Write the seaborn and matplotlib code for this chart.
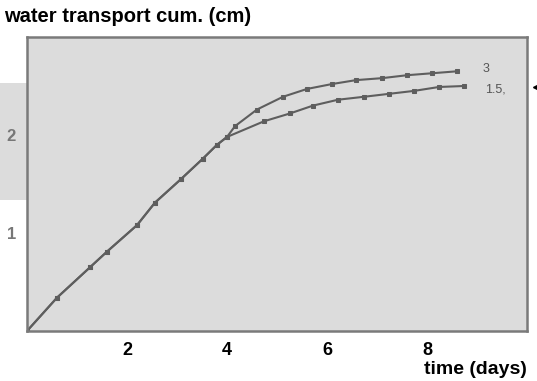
import matplotlib
matplotlib.use("Agg")
import matplotlib.pyplot as plt
import seaborn as sns
import pandas as pd
from matplotlib.patches import Rectangle

# ---- data ----
days_shared = [0, 0.6, 1.26, 1.6, 2.2, 2.56, 3.08, 3.52, 3.8, 4.0]
cum_shared = [0, 0.34, 0.65, 0.81, 1.08, 1.31, 1.55, 1.76, 1.9, 1.98]
days_3 = [4.16, 4.6, 5.12, 5.6, 6.1, 6.58, 7.1, 7.6, 8.1, 8.6]
cum_3 = [2.09, 2.26, 2.39, 2.47, 2.52, 2.56, 2.58, 2.61, 2.63, 2.65]
days_15 = [4.74, 5.26, 5.72, 6.22, 6.74, 7.24, 7.74, 8.24, 8.74]
cum_15 = [2.14, 2.22, 2.30, 2.36, 2.39, 2.42, 2.45, 2.49, 2.50]
series_labels = ["3", "1.5,"]
x_ticks = [2, 4, 6, 8]
y_ticks = [1, 2]

df = pd.concat([
    pd.DataFrame({"day": days_shared + days_3, "cum": cum_shared + cum_3, "s": series_labels[0]}),
    pd.DataFrame({"day": days_shared + days_15, "cum": cum_shared + cum_15, "s": series_labels[1]}),
])

sns.set_style("white")
plt.rcParams["font.family"] = ["Liberation Sans", "DejaVu Sans"]

W, H = 537, 381
fig = plt.figure(figsize=(W / 100, H / 100), dpi=100)
fig.patch.set_facecolor("white")
ax = fig.add_axes([27 / W, 1 - 331 / H, 500 / W, 294 / H])

bg = "#dcdcdc"
ax.set_facecolor(bg)
# textured strip outside the axes on the left
fig.patches.append(Rectangle((0, 1 - 200 / H), 27 / W, 117 / H, transform=fig.transFigure,
                             facecolor=bg, edgecolor="none", zorder=-5))

line_col = "#5e5e5e"
for lab in series_labels:
    sub = df[df["s"] == lab]
    sns.lineplot(data=sub, x="day", y="cum", ax=ax, color=line_col, linewidth=1.5,
                 marker="s", markersize=3.5, markeredgecolor=line_col, sort=False,
                 estimator=None)

ax.text(9.12, 2.67, series_labels[0], fontsize=9, color="#555555", va="center", ha="left")
ax.text(9.16, 2.46, series_labels[1], fontsize=9, color="#555555", va="center", ha="left")
ax.plot([10.17], [2.49], marker="<", color="black", markersize=4, clip_on=False)

ax.set_xlim(0, 10)
ax.set_ylim(0, 3)
ax.set_xticks(x_ticks)
ax.set_yticks(y_ticks)
ax.set_xticklabels([str(t) for t in x_ticks], fontsize=13, fontweight="bold", color="black")
ax.set_yticklabels([str(t) for t in y_ticks], fontsize=12, fontweight="bold", color="#777777")
ax.tick_params(axis="x", direction="in", length=4, width=1, color="#777777", pad=8)
ax.tick_params(axis="y", direction="in", length=4, width=1, color="#777777", pad=8)
ax.set_xlabel("")
ax.set_ylabel("")
for sp in ax.spines.values():
    sp.set_visible(True)
    sp.set_color("#7a7a7a")
    sp.set_linewidth(1.8)

fig.text(4 / W, 1 - 17 / H, "water transport cum. (cm)", fontsize=14.5, fontweight="bold",
         ha="left", va="center", color="black")
fig.text(527 / W, 1 - 370 / H, "time (days)", fontsize=14, fontweight="bold",
         ha="right", va="center", color="black")

fig.savefig("out.png", dpi=100, facecolor="white")
